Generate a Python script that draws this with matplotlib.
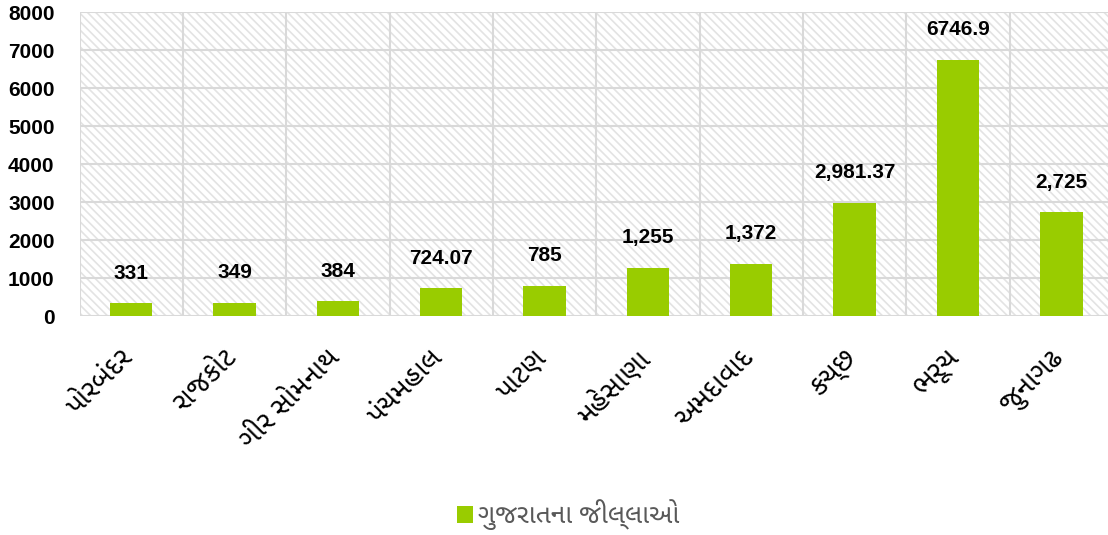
import matplotlib
matplotlib.use("Agg")
import matplotlib.pyplot as plt
from matplotlib.patches import Rectangle
from matplotlib.transforms import ScaledTranslation
import numpy as np

categories = ["પોરબંદર", "રાજકોટ", "ગીર સોમનાથ", "પંચમહાલ", "પાટણ",
              "મહેસાણા", "અમદાવાદ", "કચ્છ", "ભરૂચ", "જુનાગઢ"]
values = [331, 349, 384, 724.07, 785, 1255, 1372, 2981.37, 6746.9, 2725]
value_labels = ["331", "349", "384", "724.07", "785", "1,255", "1,372",
                "2,981.37", "6746.9", "2,725"]
yticks = [0, 1000, 2000, 3000, 4000, 5000, 6000, 7000, 8000]
legend_label = "ગુજરાતના જીલ્લાઓ"

guj = ["Noto Sans Gujarati", "Lohit Gujarati", "Liberation Sans", "DejaVu Sans"]
num_font = ['Liberation Sans', 'DejaVu Sans']
plt.rcParams['hatch.linewidth'] = 1.2
plt.rcParams['hatch.color'] = '#e3e3e3'

fig = plt.figure(figsize=(11.08, 5.35), dpi=100)
W, H = 1108, 535
x0, x1, ytop, ybot = 79.5, 1113, 12, 316
ax = fig.add_axes([x0 / W, 1 - ybot / H, (x1 - x0) / W, (ybot - ytop) / H])

n = len(categories)
x = np.arange(n)
ax.set_xlim(-0.5, n - 0.5)
ax.set_ylim(0, 8000)

bg = Rectangle((0, 0), 1, 1, transform=ax.transAxes, facecolor='white',
               edgecolor='#e3e3e3', hatch='\\' * 4, linewidth=0, zorder=0)
ax.add_patch(bg)

for yv in yticks:
    ax.axhline(yv, color='#d9d9d9', linewidth=1.5, zorder=1)
for b in np.arange(-0.5, n, 1.0):
    ax.axvline(b, color='#d9d9d9', linewidth=1.5, zorder=1)

bars = ax.bar(x, values, width=0.41, color='#99cc00', zorder=2, label=legend_label)

for xi, v, lab in zip(x, values, value_labels):
    ax.annotate(lab, (xi, v), xytext=(0, 15), textcoords='offset points',
                ha='center', va='bottom', fontsize=15, fontweight='bold',
                family=num_font, color='black', zorder=3)

for s in ax.spines.values():
    s.set_visible(False)
ax.tick_params(length=0)
ax.set_yticks(yticks)
ax.set_yticklabels([str(t) for t in yticks], fontsize=15, fontweight='bold',
                   family=num_font)
ax.tick_params(axis='y', pad=18)
ax.set_xticks(x)
ax.set_xticklabels(categories, rotation=45, ha='right', rotation_mode='anchor',
                   fontsize=20, fontweight='bold', family=guj)
ax.tick_params(axis='x', pad=20)
offset = ScaledTranslation(-12 / 100, 0, fig.dpi_scale_trans)
for lbl in ax.get_xticklabels():
    lbl.set_transform(lbl.get_transform() + offset)

leg = fig.legend(handles=[bars], labels=[legend_label], loc='center',
                 bbox_to_anchor=(568 / W, 1 - 515 / H), frameon=False,
                 prop={'family': guj, 'size': 19}, handlelength=0.6,
                 handleheight=0.6, handletextpad=0.2)
for t in leg.get_texts():
    t.set_color('#595959')

fig.savefig("out.png", dpi=100)
